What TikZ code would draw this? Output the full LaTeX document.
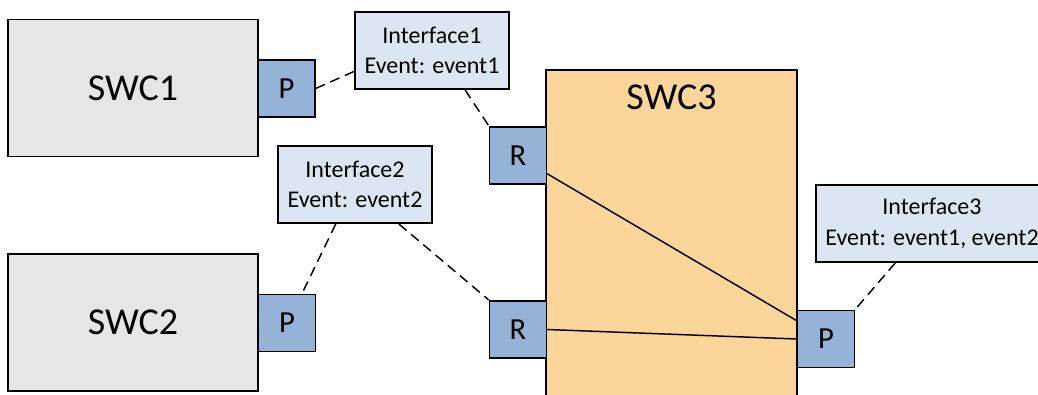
\documentclass[tikz,border=0pt]{standalone}
\usepackage{fontspec}
\setmainfont{Carlito}
\usepackage{tikz}
\usetikzlibrary{calc}

\definecolor{swcgray}{HTML}{E7E6E6}
\definecolor{portblue}{HTML}{95B3D7}
\definecolor{ifblue}{HTML}{DCE6F2}
\definecolor{swcorange}{HTML}{FCD59A}

\begin{document}
\begin{tikzpicture}[x=0.75pt, y=-0.75pt,
    swc/.style={draw, line width=1.2pt, fill=swcgray, inner sep=0pt,
        minimum width=187.5pt, minimum height=102.5pt,
        font=\fontsize{28.5}{32}\selectfont},
    port/.style={draw, line width=1.2pt, fill=portblue, inner sep=0pt,
        minimum width=42.5pt, minimum height=43pt,
        font=\fontsize{23}{26}\selectfont},
    iface/.style={draw, line width=1.2pt, fill=ifblue, inner sep=0pt,
        minimum width=115.5pt, minimum height=58pt, align=center,
        font=\fontsize{18}{23}\selectfont},
    link/.style={line width=1.1pt, dash pattern=on 7.5pt off 4.5pt},
    wire/.style={line width=1.1pt}]

    % Page size
    \useasboundingbox (0,0) rectangle (1038,394);
    \clip (0,0) rectangle (1038,394);

    % Draw the composite component first, the ports sit on its edges
    \draw[line width=1.2pt, fill=swcorange] (546,70) rectangle (797,430);
    \node[font=\fontsize{28.5}{32}\selectfont] (swc3) at (671.5,97) {SWC3};

    % Draw the two sender components
    \node[swc] (swc1) at (133,88) {SWC1};
    \node[swc] (swc2) at (133,322.5) {SWC2};

    % Mark the ports
    \foreach \name/\x/\y/\txt in {p1/286.5/88.5/P, p2/287/323/P, r1/518/155.5/R,
                                   r2/518/329.5/R, p3/826/339/P}
        \node[port] (\name) at (\x,\y) {\txt};

    % Label the interfaces
    \node[iface] (if1) at (432,50.5) {Interface1\\Event: event1};
    \node[iface] (if2) at (355,184.5) {Interface2\\Event: event2};
    \node[iface, minimum width=174pt] (if3) at (932,223.5)
        {Interface3\\Event: event1, event2};

    % Dashed links from interfaces to ports
    \draw[link] (p1.east) -- (if1.195);
    \draw[link] (if1.310) -- (r1.north west);
    \draw[link] (if2.244) -- (p2.63);
    \draw[link] (if2.318) -- (r2.north west);
    \draw[link] (if3.227) -- (p3.north east);

    % Internal connections of SWC3
    \draw[wire] (r1.328) -- (p3.148);
    \draw[wire] (r2.east) -- (p3.west);
\end{tikzpicture}
\end{document}
